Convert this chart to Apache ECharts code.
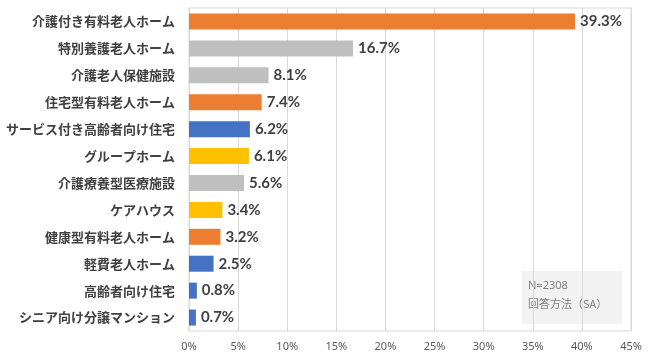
<!DOCTYPE html>
<html><head><meta charset="utf-8">
<script src="https://cdn.jsdelivr.net/npm/echarts@6/dist/echarts.min.js"></script>
<style>html,body{margin:0;padding:0;background:#fff}#c{width:650px;height:359px}</style>
</head><body><div id="c"></div>
<script>
const categories = ['介護付き有料老人ホーム','特別養護老人ホーム','介護老人保健施設','住宅型有料老人ホーム','サービス付き高齢者向け住宅','グループホーム','介護療養型医療施設','ケアハウス','健康型有料老人ホーム','軽費老人ホーム','高齢者向け住宅','シニア向け分譲マンション'];
const values = [39.3,16.7,8.1,7.4,6.2,6.1,5.6,3.4,3.2,2.5,0.8,0.7];
const groups = ['A','B','B','A','C','D','B','D','A','C','C','C'];
const xTicks = [0,5,10,15,20,25,30,35,40,45];
const noteLines = ['N=2308','回答方法（SA）'];

const groupColor = {A:'#ED7D31', B:'#BFBFBF', C:'#4472C4', D:'#FFC000'};
const chart = echarts.init(document.getElementById('c'));
chart.setOption({
  animation:false,
  grid:{left:189,right:19,top:8,bottom:28,show:true,borderColor:'#d9d9d9',borderWidth:1},
  xAxis:{type:'value',min:xTicks[0],max:xTicks[xTicks.length-1],interval:5,
    axisLine:{show:false},axisTick:{show:false},
    splitLine:{lineStyle:{color:'#d9d9d9',width:1}},
    axisLabel:{formatter:v=>v+'%',color:'#595959',fontSize:11,fontFamily:'Noto Sans',margin:10}},
  yAxis:{type:'category',data:categories,inverse:true,
    axisLine:{lineStyle:{color:'#d9d9d9'}},axisTick:{show:false},
    axisLabel:{color:'#404040',fontSize:13,fontWeight:'bold',fontFamily:'Noto Sans CJK JP',margin:14}},
  series:[{type:'bar',barWidth:16,
    data:values.map((v,i)=>({value:v,itemStyle:{color:groupColor[groups[i]]}})),
    label:{show:true,position:'right',distance:5,formatter:p=>p.value.toFixed(1)+'%',
      color:'#404040',fontSize:15,fontWeight:'bold',fontFamily:'Lato'}}],
  graphic:[{type:'group',left:522,top:271,children:[
    {type:'rect',shape:{x:0,y:0,width:100,height:53},style:{fill:'#f2f2f2'}},
    {type:'text',left:6,top:9,style:{text:noteLines[0],fill:'#7f7f7f',font:'11px "Noto Sans"'}},
    {type:'text',left:6,top:27,style:{text:noteLines[1],fill:'#7f7f7f',font:'11px "Noto Sans CJK JP"'}}
  ]}]
});
</script></body></html>
